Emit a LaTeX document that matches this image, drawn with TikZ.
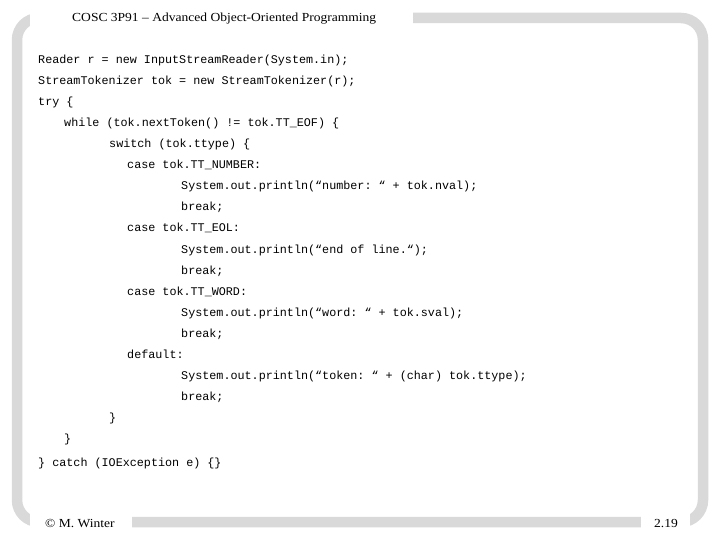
\documentclass[tikz,border=0pt]{standalone}
\usepackage{fontspec}
\setmainfont{Liberation Serif}
\setmonofont{Liberation Mono}
\begin{document}
\begin{tikzpicture}[x=1pt,y=-1pt,
  code/.style={anchor=base west,inner sep=0pt,font=\ttfamily\fontsize{11.75}{12}\selectfont},
  lab/.style={inner sep=0pt,xscale=1.1,font=\fontsize{12.3}{12}\selectfont}]
\useasboundingbox (0,0) rectangle (720,540);
\fill[white] (0,0) rectangle (720,540);
\draw[line width=10.5,color={rgb,255:red,217;green,217;blue,217},rounded corners=22] (17,18) rectangle (703,522);
\fill[white] (30,5) rectangle (413,30);
\fill[white] (30,510) rectangle (132,535);
\fill[white] (641,510) rectangle (690,535);
\node[lab,anchor=base west] (hdr) at (72,22) {COSC 3P91 – Advanced Object-Oriented Programming};
\node[lab,anchor=base west] (auth) at (45,527) {© M. Winter};
\node[lab,anchor=base east] (pg) at (678,527) {2.19};
\node[code] (l1) at (38,64) {Reader r = new InputStreamReader(System.in);};
\node[code] (l2) at (38,85) {StreamTokenizer tok = new StreamTokenizer(r);};
\node[code] (l3) at (38,106) {try \{};
\node[code] (l4) at (64,127) {while (tok.nextToken() != tok.TT\_EOF) \{};
\node[code] (l5) at (109,148) {switch (tok.ttype) \{};
\node[code] (l6) at (127,169) {case tok.TT\_NUMBER:};
\node[code] (l7) at (181,190) {System.out.println(“number: “ + tok.nval);};
\node[code] (l8) at (181,211) {break;};
\node[code] (l9) at (127,232) {case tok.TT\_EOL:};
\node[code] (l10) at (181,253) {System.out.println(“end of line.“);};
\node[code] (l11) at (181,274) {break;};
\node[code] (l12) at (127,295) {case tok.TT\_WORD:};
\node[code] (l13) at (181,316) {System.out.println(“word: “ + tok.sval);};
\node[code] (l14) at (181,337) {break;};
\node[code] (l15) at (127,358) {default:};
\node[code] (l16) at (181,379) {System.out.println(“token: “ + (char) tok.ttype);};
\node[code] (l17) at (181,400) {break;};
\node[code] (l18) at (109,421) {\}};
\node[code] (l19) at (64,442) {\}};
\node[code] (l20) at (38,466) {\} catch (IOException e) \{\}};
\end{tikzpicture}
\end{document}
